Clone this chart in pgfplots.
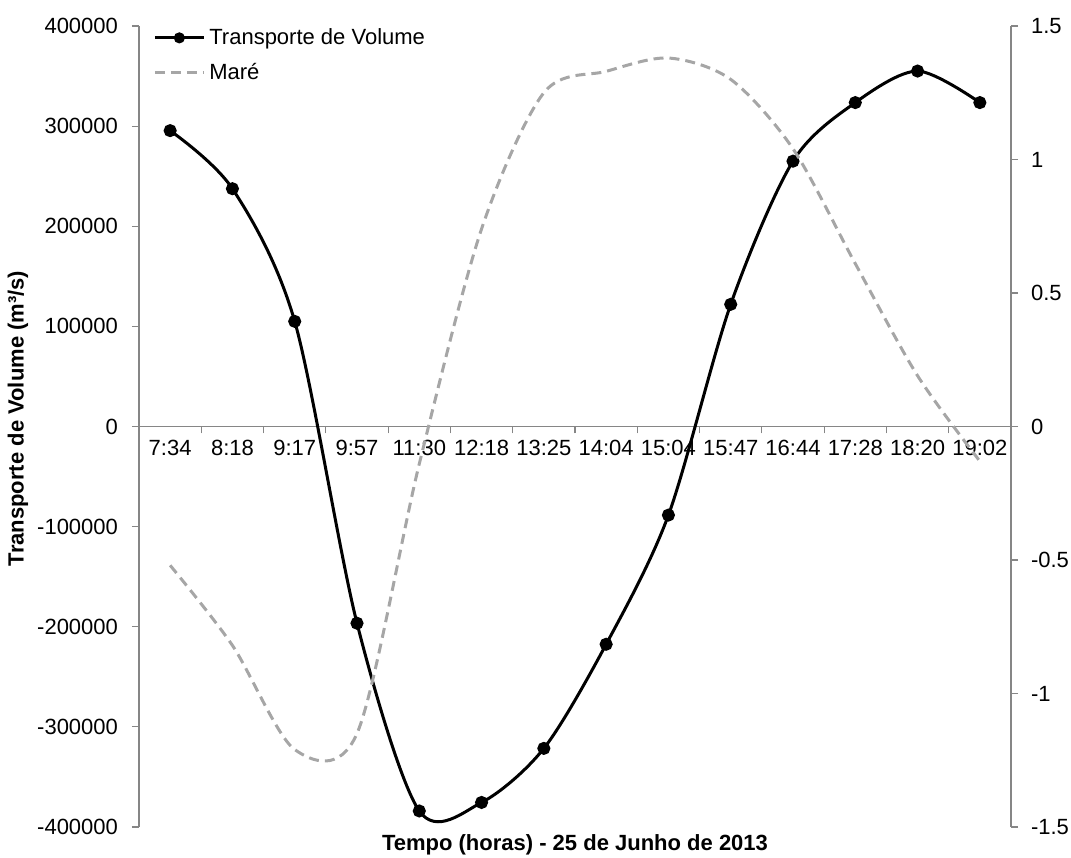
\documentclass[border=0pt]{standalone}
\usepackage{fontspec}
\setmainfont{Liberation Sans}
\usepackage{pgfplots}
\pgfplotsset{compat=1.18}
\definecolor{axgray}{HTML}{868686}
\definecolor{tidegray}{HTML}{A6A6A6}
\begin{document}
\begin{tikzpicture}[font=\fontsize{11}{13}\selectfont]
\begin{axis}[name=ax, scale only axis, width=436pt, height=400.5pt,
 xmin=-0.5, xmax=13.5, ymin=-400000, ymax=400000,
 axis x line=middle, axis y line*=left,
 axis line style={-, draw=axgray, line width=0.6pt},
 hide obscured x ticks=false, hide obscured y ticks=false,
 xtick={0,...,13},
 xticklabels={7:34,8:18,9:17,9:57,11:30,12:18,13:25,14:04,15:04,15:47,16:44,17:28,18:20,19:02},
 every major x tick/.append style={draw=none},
 minor xtick={-0.5,0.5,...,13.5},
 ytick={-400000,-300000,...,400000},
 scaled y ticks=false,
 tick align=outside, major tick length=3.5pt, minor tick length=3.5pt,
 tick style={draw=axgray, line width=0.6pt},
 yticklabel style={xshift=-3.5pt, /pgf/number format/fixed, /pgf/number format/1000 sep={}, /pgf/number format/assume math mode=true},
 legend style={at={(axis description cs:0,1)}, anchor=north west, draw=none, fill=none, xshift=4pt, yshift=3pt, row sep=4pt, font=\fontsize{11}{13}\selectfont},
 legend cell align=left,
 legend image code/.code={\draw[mark repeat=2,mark phase=2,#1,mark size=2pt] plot coordinates {(0cm,0cm) (0.43cm,0cm) (0.86cm,0cm)};},
]
\addplot[black, line width=1.5pt, smooth, tension=0.5, mark=*, mark size=2.5pt, mark options={solid}] coordinates {
(0,295500) (1,237500) (2,105000) (3,-196500) (4,-384000) (5,-375500) (6,-321500)
(7,-217500) (8,-88500) (9,122000) (10,265000) (11,323500) (12,355000) (13,323500)};
\addlegendentry{Transporte de Volume}
\addlegendimage{tidegray, line width=1.5pt, dash pattern=on 5pt off 3pt}
\addlegendentry{Maré}
\end{axis}
\begin{axis}[scale only axis, width=436pt, height=400.5pt,
 xmin=-0.5, xmax=13.5, ymin=-1.5, ymax=1.5,
 axis x line=none, axis y line*=right,
 axis line style={-, draw=axgray, line width=0.6pt},
 ytick={-1.5,-1,-0.5,0,0.5,1,1.5},
 tick align=outside, major tick length=3.5pt,
 tick style={draw=axgray, line width=0.6pt},
 yticklabel style={xshift=3pt, /pgf/number format/assume math mode=true},
]
\addplot[tidegray, line width=1.5pt, dash pattern=on 5pt off 3pt, smooth, tension=0.5] coordinates {
(0,-0.52) (1,-0.82) (2,-1.21) (3,-1.15) (4,-0.14) (5,0.74) (6,1.25)
(7,1.33) (8,1.38) (9,1.30) (10,1.04) (11,0.61) (12,0.19) (13,-0.13)};
\end{axis}
\node[font=\bfseries\fontsize{11}{13}\selectfont] at ([yshift=-9pt]ax.south) {Tempo (horas) - 25 de Junho de 2013};
\node[rotate=90, font=\bfseries\fontsize{11}{13}\selectfont] at ([xshift=-60.5pt, yshift=4pt]ax.west) {Transporte de Volume (m³/s)};
\pgfresetboundingbox
\path ([xshift=-69.5pt,yshift=-15.5pt]ax.south west) rectangle ([xshift=30pt,yshift=13pt]ax.north east);
\end{tikzpicture}
\end{document}
